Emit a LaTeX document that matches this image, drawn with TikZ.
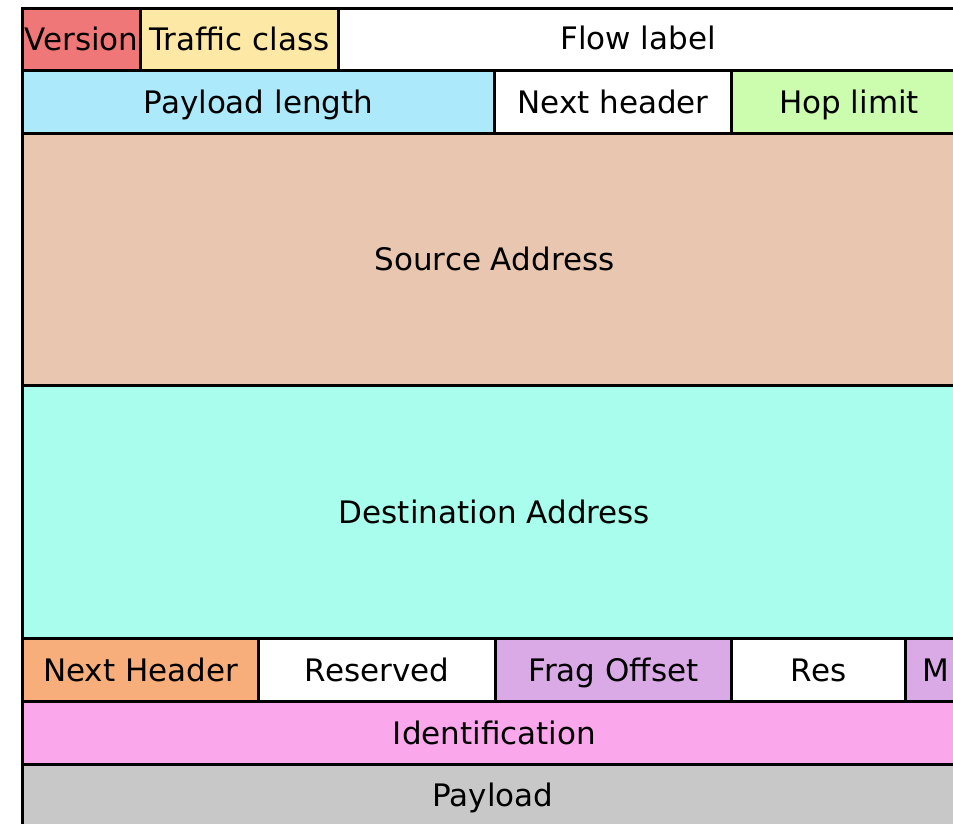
\documentclass[tikz,border=0pt]{standalone}
\usepackage{fontspec}
\setmainfont{DejaVu Sans}
\definecolor{cver}{HTML}{F07777}
\definecolor{ctc}{HTML}{FDE9A5}
\definecolor{cpl}{HTML}{ACE9FB}
\definecolor{chop}{HTML}{CCFDAE}
\definecolor{csrc}{HTML}{E8C6B0}
\definecolor{cdst}{HTML}{A8FDEC}
\definecolor{cnh}{HTML}{F8AE7B}
\definecolor{cfrag}{HTML}{D9AAE5}
\definecolor{cid}{HTML}{FAA7EC}
\definecolor{cpay}{HTML}{C8C8C8}
\tikzset{
  txt/.style={inner sep=0pt, text height=22.6pt, text depth=0pt,
    font=\fontsize{31}{36}\selectfont, text=black},
  fld/.style={txt, draw=black, line width=3pt, anchor=north west}
}
\begin{document}
\begin{tikzpicture}[x=1pt,y=-1pt]
\useasboundingbox (0,0) rectangle (953,823);
\fill[white] (0,0) rectangle (953,823);
\clip (0,0) rectangle (953,823);
% row 1
\node[fld, fill=cver, minimum width=118pt, minimum height=62pt] (ver) at (21,7) {Version};
\node[fld, fill=ctc, minimum width=198pt, minimum height=62pt] (tc) at (139,7) {Traffic class};
\node[fld, fill=white, minimum width=628pt, minimum height=62pt] (fl) at (337,7) {};
\node[txt] (fltxt) at (638,38) {Flow label};
% row 2
\node[fld, fill=cpl, minimum width=472pt, minimum height=63pt] (plen) at (21,69) {Payload length};
\node[fld, fill=white, minimum width=237pt, minimum height=63pt] (nh) at (493,69) {Next header};
\node[fld, fill=chop, minimum width=235pt, minimum height=63pt] (hop) at (730,69) {Hop limit};
% addresses
\node[fld, fill=csrc, minimum width=944pt, minimum height=252pt] (src) at (21,132) {Source Address};
\node[fld, fill=cdst, minimum width=944pt, minimum height=253pt] (dst) at (21,384) {Destination Address};
% fragment header
\node[fld, fill=cnh, minimum width=236pt, minimum height=63pt] (fnh) at (21,637) {Next Header};
\node[fld, fill=white, minimum width=237pt, minimum height=63pt] (rsv) at (257,637) {Reserved};
\node[fld, fill=cfrag, minimum width=236pt, minimum height=63pt] (fo) at (494,637) {Frag Offset};
\node[fld, fill=white, minimum width=174pt, minimum height=63pt] (res) at (730,637) {Res};
\node[fld, fill=cfrag, minimum width=61pt, minimum height=63pt] (m) at (904,637) {M};
\node[fld, fill=cid, minimum width=944pt, minimum height=63pt] (id) at (21,700) {Identification};
% payload
\node[fld, fill=cpay, minimum width=944pt, minimum height=66pt] (pay) at (21,763) {};
\node[txt] (paytxt) at (493,795) {Payload};
\end{tikzpicture}
\end{document}
